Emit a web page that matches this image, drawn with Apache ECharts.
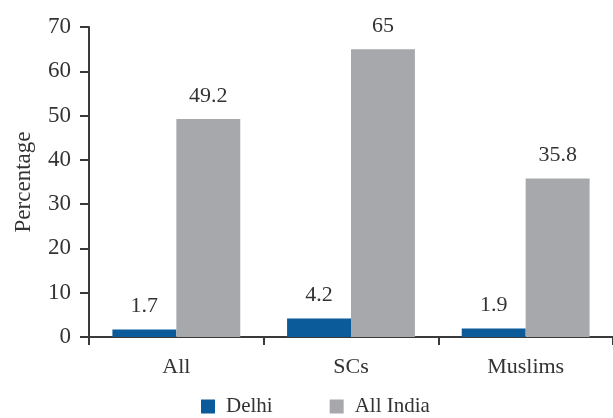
<!DOCTYPE html>
<html>
<head>
<meta charset="utf-8">
<script src="https://cdn.jsdelivr.net/npm/echarts@6/dist/echarts.min.js"></script>
<style>
  html, body { margin: 0; padding: 0; background: #fff; }
  #chart { width: 613px; height: 418px; }
</style>
</head>
<body>
<div id="chart"></div>
<script>
// Categories and series values
const categories = ['All', 'SCs', 'Muslims'];
const delhiValues = [1.7, 4.2, 1.9];
const allIndiaValues = [49.2, 65, 35.8];
const seriesNames = ['Delhi', 'All India'];
const yAxisName = 'Percentage';

const FONT = '"Liberation Serif", "Times New Roman", serif';
const TEXT = '#333333';
const AXIS = '#3a3a3a';

const chart = echarts.init(document.getElementById('chart'), null, { renderer: 'canvas' });

const labelStyle = {
  show: true,
  position: 'top',
  distance: 12,
  fontFamily: FONT,
  fontSize: 22,
  color: TEXT
};

chart.setOption({
  animation: false,
  backgroundColor: '#ffffff',
  textStyle: { fontFamily: FONT, color: TEXT },
  grid: { left: 89, right: -1, top: 27, bottom: 81, containLabel: false },
  legend: {
    bottom: 1,
    left: 201,
    padding: 0,
    itemWidth: 14,
    itemHeight: 14,
    itemGap: 57,
    icon: 'rect',
    textStyle: { fontFamily: FONT, fontSize: 21, color: TEXT, padding: [0, 0, 0, 6] },
    data: seriesNames
  },
  xAxis: {
    type: 'category',
    data: categories,
    axisLine: { show: true, lineStyle: { color: AXIS, width: 2 } },
    axisTick: { show: true, length: 8, lineStyle: { color: AXIS, width: 2 } },
    axisLabel: { fontFamily: FONT, fontSize: 22, color: TEXT, margin: 19 }
  },
  yAxis: {
    type: 'value',
    min: 0,
    max: 70,
    interval: 10,
    name: yAxisName,
    nameLocation: 'middle',
    nameGap: 54,
    nameRotate: 90,
    nameTextStyle: { fontFamily: FONT, fontSize: 23, color: TEXT },
    axisLine: { show: true, lineStyle: { color: AXIS, width: 2 } },
    axisTick: { show: true, length: 9, lineStyle: { color: AXIS, width: 2 } },
    axisLabel: { fontFamily: FONT, fontSize: 23, color: TEXT, margin: 18 },
    splitLine: { show: false }
  },
  series: [
    {
      name: seriesNames[0],
      type: 'bar',
      data: delhiValues,
      barWidth: '36.6%',
      barGap: '0%',
      itemStyle: { color: '#0b5b9b' },
      label: labelStyle
    },
    {
      name: seriesNames[1],
      type: 'bar',
      data: allIndiaValues,
      barWidth: '36.6%',
      barGap: '0%',
      itemStyle: { color: '#a7a8ab' },
      label: labelStyle
    }
  ]
});
</script>
</body>
</html>
